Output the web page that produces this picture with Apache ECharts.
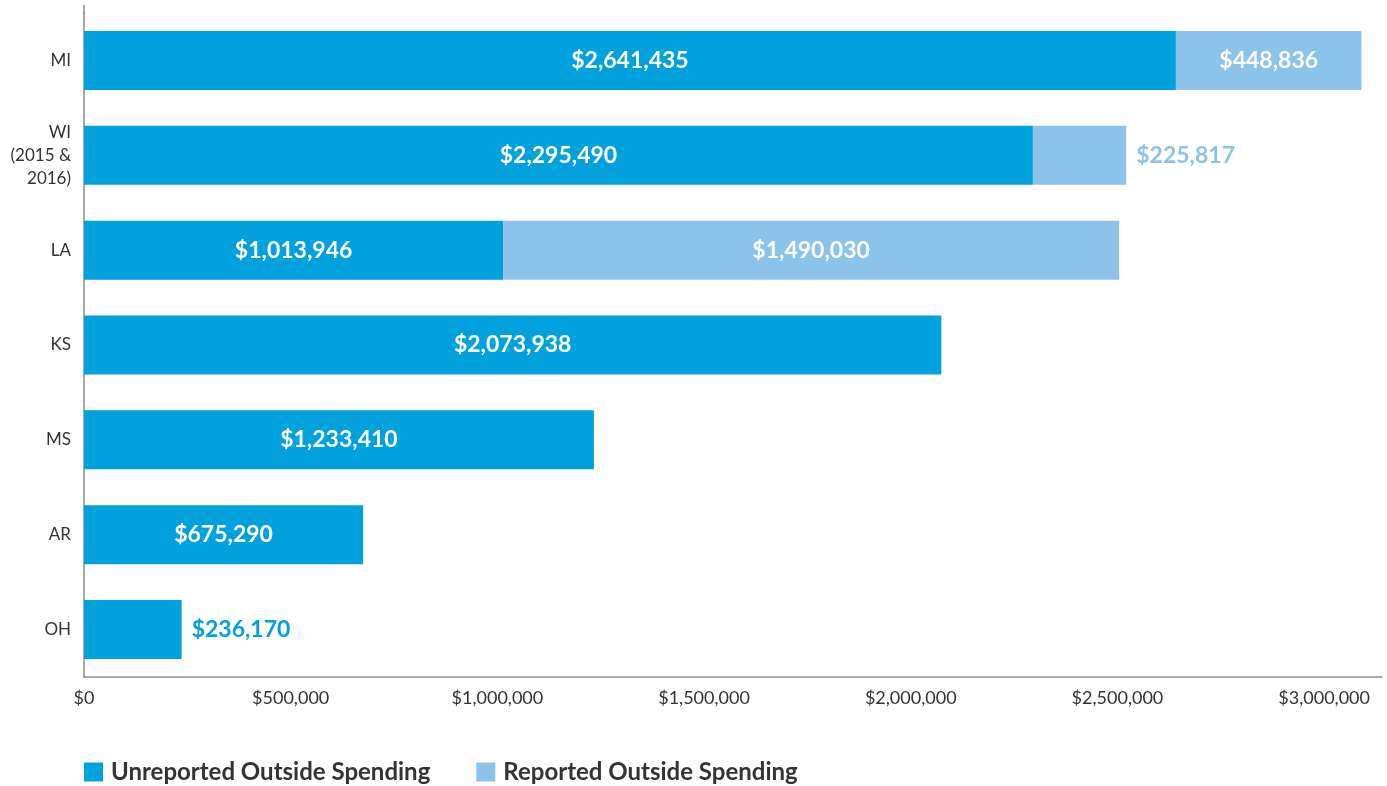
<!DOCTYPE html>
<html>
<head>
<meta charset="utf-8">
<title>Outside Spending</title>
<script src="https://cdn.jsdelivr.net/npm/echarts@6/dist/echarts.min.js"></script>
<style>
  html, body { margin: 0; padding: 0; background: #fff; }
  #chart { width: 1387px; height: 786px; }
</style>
</head>
<body>
<div id="chart"></div>
<script>
// 数据
const states = ["MI", "WI\n(2015 &\n2016)", "LA", "KS", "MS", "AR", "OH"];
const unreported = [2641435, 2295490, 1013946, 2073938, 1233410, 675290, 236170];
const reported = [448836, 225817, 1490030, null, null, null, null];
const xTicks = [0, 500000, 1000000, 1500000, 2000000, 2500000, 3000000];

const BLUE = "#00a1dc";
const LIGHT = "#8bc3ea";
const FONT = "Lato, 'Open Sans', sans-serif";

const money = (v) => "$" + Math.round(v).toLocaleString("en-US");

// 小数值的标签放在柱子外侧
function buildData(values, color) {
  return values.map((v) => {
    if (v == null) return null;
    if (v < 300000) {
      return {
        value: v,
        label: { position: "right", color: color, distance: 10 },
      };
    }
    return v;
  });
}

const chart = echarts.init(document.getElementById("chart"));

const barLabel = {
  show: true,
  position: "inside",
  color: "#fff",
  fontSize: 23,
  fontWeight: "bold",
  fontFamily: FONT,
  formatter: (p) => money(p.value),
};

const options = {
  animation: false,
  textStyle: { fontFamily: FONT },
  grid: {
    left: 84,
    right: 5,
    top: 13,
    bottom: 109,
  },
  legend: {
    left: 84,
    top: 760,
    padding: 0,
    icon: "rect",
    itemWidth: 19,
    itemHeight: 19,
    itemGap: 46,
    textStyle: {
      fontFamily: FONT,
      fontSize: 24,
      fontWeight: "bold",
      color: "#333",
      padding: [0, 0, 0, 3],
    },
    data: ["Unreported Outside Spending", "Reported Outside Spending"],
  },
  xAxis: {
    type: "value",
    min: 0,
    max: 3140000,
    interval: 500000,
    splitLine: { show: false },
    axisTick: { show: false },
    axisLine: { show: true, lineStyle: { color: "#8a8a8a", width: 1.5 } },
    axisLabel: {
      showMaxLabel: false,
      margin: 12,
      fontSize: 18,
      color: "#333",
      fontFamily: FONT,
      formatter: (v) => (xTicks.includes(v) ? money(v) : ""),
    },
  },
  yAxis: {
    type: "category",
    inverse: true,
    data: states,
    axisTick: { show: false },
    axisLine: { show: true, lineStyle: { color: "#8a8a8a", width: 1.5 } },
    axisLabel: {
      margin: 13,
      fontSize: 17,
      lineHeight: 23,
      color: "#333",
      fontFamily: FONT,
    },
  },
  // y 轴线向上多出一小段
  graphic: [
    {
      type: "line",
      shape: { x1: 84, y1: 5, x2: 84, y2: 14 },
      style: { stroke: "#8a8a8a", lineWidth: 1.5 },
    },
  ],
  series: [
    {
      name: "Unreported Outside Spending",
      type: "bar",
      stack: "total",
      barWidth: 59,
      itemStyle: { color: BLUE },
      label: barLabel,
      data: buildData(unreported, BLUE),
    },
    {
      name: "Reported Outside Spending",
      type: "bar",
      stack: "total",
      barWidth: 59,
      itemStyle: { color: LIGHT },
      label: barLabel,
      data: buildData(reported, LIGHT),
    },
  ],
};

chart.setOption(options);

window.addEventListener("resize", () => {
  chart.resize();
});
</script>
</body>
</html>
